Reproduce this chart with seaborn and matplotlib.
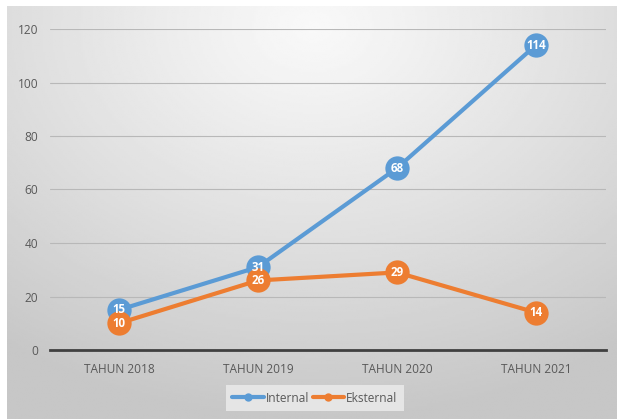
import numpy as np
import pandas as pd
import matplotlib
matplotlib.use("Agg")
import matplotlib.pyplot as plt
import seaborn as sns

categories = ["TAHUN 2018", "TAHUN 2019", "TAHUN 2020", "TAHUN 2021"]
internal = [15, 31, 68, 114]
eksternal = [10, 26, 29, 14]
series_names = ["Internal", "Eksternal"]
palette = {"Internal": "#5B9BD5", "Eksternal": "#ED7D31"}

df = pd.DataFrame({
    "tahun": categories * 2,
    "x": list(range(len(categories))) * 2,
    "nilai": internal + eksternal,
    "seri": [series_names[0]] * len(categories) + [series_names[1]] * len(categories),
})

sns.set_theme(style="white")
plt.rcParams["font.family"] = ["Open Sans", "DejaVu Sans"]

W, H = 617, 419
fig = plt.figure(figsize=(W / 100, H / 100), dpi=100)
fig.patch.set_facecolor("white")

# radial grey gradient panel behind the chart
bg = fig.add_axes([7 / W, 0, (W - 7) / W, (H - 6) / H])
bg.set_axis_off()
ny, nx = 200, 300
yy, xx = np.mgrid[0:ny, 0:nx]
cx, cy = nx * 0.5, ny * 0.05
r = np.sqrt(((xx - cx) / nx) ** 2 + ((yy - cy) / ny * 0.9) ** 2)
r = np.clip(r / 0.85, 0, 1)
c0, c1 = 0.975, 0.78
shade = c0 + (c1 - c0) * r ** 1.1
bg.imshow(shade, cmap="gray", vmin=0, vmax=1, aspect="auto", extent=[0, 1, 0, 1],
          origin="upper")
bg.set_xlim(0, 1)
bg.set_ylim(0, 1)

ax = fig.add_axes([49.5 / W, (H - 350) / H, (605.5 - 49.5) / W, (350 - 29) / H])
ax.patch.set_alpha(0)

sns.lineplot(data=df, x="x", y="nilai", hue="seri", palette=palette, marker="o",
             markersize=17.5, linewidth=3.0, markeredgewidth=0, ax=ax, legend=True,
             zorder=3)

for name, vals in zip(series_names, [internal, eksternal]):
    for i, v in enumerate(vals):
        ax.text(i, v, str(v), ha="center", va="center", color="white",
                fontsize=8.3, fontweight="bold", zorder=5)

ax.set_xlim(-0.5, len(categories) - 0.5)
ax.set_ylim(0, 120)
ax.set_yticks(range(0, 121, 20))
ax.set_xticks(range(len(categories)))
ax.set_xticklabels(categories)
ax.set_xticks(np.arange(-0.5, len(categories), 1.0), minor=True)
ax.tick_params(axis="x", which="major", length=0, pad=9, labelsize=8.6, labelcolor="#595959")
ax.tick_params(axis="x", which="minor", length=5, width=1.5, color="#404040", direction="out")
ax.tick_params(axis="y", length=0, pad=8, labelsize=8.6, labelcolor="#595959")
ax.set_xlabel("")
ax.set_ylabel("")

ax.grid(axis="y", color="#b8b8b8", linewidth=0.8)
ax.set_axisbelow(True)
for s in ["top", "right", "left"]:
    ax.spines[s].set_visible(False)
ax.spines["bottom"].set_color("#404040")
ax.spines["bottom"].set_linewidth(2.0)
ax.spines["bottom"].set_zorder(2)

handles, labels = ax.get_legend_handles_labels()
ax.get_legend().remove()
for h in handles:
    h.set_markersize(6)
    h.set_linewidth(3)
leg = fig.legend(handles, labels, loc="center", bbox_to_anchor=(315 / W, 1 - 398 / H),
                 ncol=2, frameon=True, fontsize=8.6, handlelength=2.6, handletextpad=0.2,
                 columnspacing=0.3, borderpad=0.55, fancybox=False)
leg.get_frame().set_facecolor("#e9e9e9")
leg.get_frame().set_edgecolor("none")
leg.get_frame().set_alpha(0.9)
for t in leg.get_texts():
    t.set_color("#595959")

fig.savefig("out.png", dpi=100)
